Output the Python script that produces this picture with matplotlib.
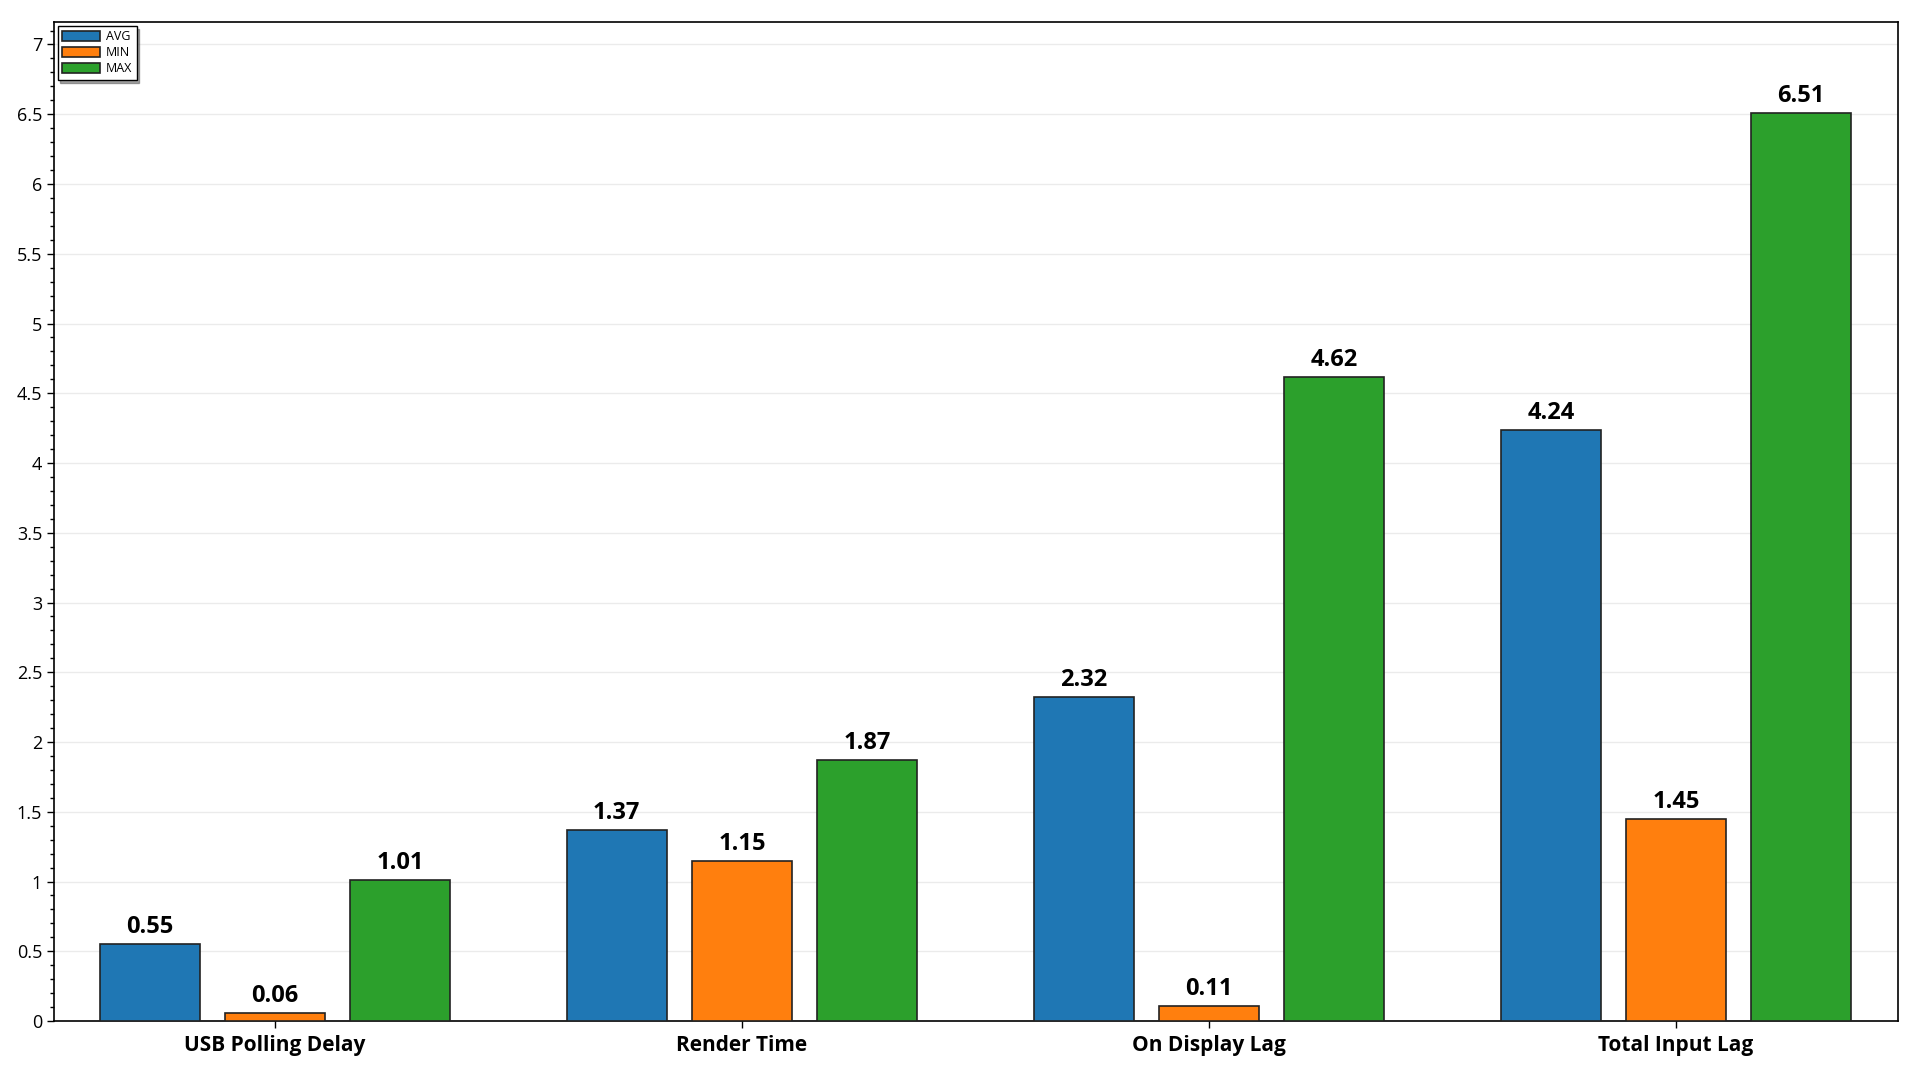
import numpy as np
import matplotlib
matplotlib.use("Agg")
import matplotlib.pyplot as plt
from matplotlib.ticker import MultipleLocator, FuncFormatter

plt.rcParams['font.family'] = ['Open Sans', 'DejaVu Sans']

categories = ['USB Polling Delay', 'Render Time', 'On Display Lag', 'Total Input Lag']
avg_vals = [0.55, 1.37, 2.32, 4.24]
min_vals = [0.06, 1.15, 0.11, 1.45]
max_vals = [1.01, 1.87, 4.62, 6.51]
series_names = ['AVG', 'MIN', 'MAX']
colors = ['#1f77b4', '#ff7f0e', '#2ca02c']

fig = plt.figure(figsize=(19.2, 10.8), dpi=100)
ax = fig.add_axes([0.0281, 0.0546, 0.9604, 0.925])

x = np.arange(len(categories))
width = 0.214
step = 0.268
for i, (vals, name, col) in enumerate(zip([avg_vals, min_vals, max_vals], series_names, colors)):
    bars = ax.bar(x + (i - 1) * step, vals, width, color=col, edgecolor='#222222',
                  linewidth=1.2, label=name, zorder=3)
    for b, v in zip(bars, vals):
        ax.text(b.get_x() + b.get_width() / 2, v + 0.035, '%.2f' % v, ha='center', va='bottom',
                fontsize=17, fontweight='bold', zorder=4)

ax.set_xlim(-0.473, 3.475)
ax.set_ylim(0, max(max_vals) * 1.1)
ax.set_xticks(x)
ax.set_xticklabels(categories, fontsize=15, fontweight='bold')
ax.yaxis.set_major_locator(MultipleLocator(0.5))
ax.yaxis.set_minor_locator(MultipleLocator(0.1))
ax.yaxis.set_major_formatter(FuncFormatter(lambda v, p: '%g' % v))
ax.tick_params(axis='y', labelsize=13, length=5, width=1)
ax.tick_params(axis='y', which='minor', length=3, width=1)
ax.tick_params(axis='x', length=5, width=1, pad=5)
ax.grid(axis='y', color='#ebebeb', linewidth=1, zorder=0)
for s in ax.spines.values():
    s.set_linewidth(1.2)
    s.set_color('black')

leg = ax.legend(loc='upper left', fontsize=9, fancybox=False, shadow=True, framealpha=1,
                edgecolor='black', handlelength=3.0, handleheight=0.9, borderpad=0.35,
                labelspacing=0.25, handletextpad=0.5, borderaxespad=0.3)
leg.get_frame().set_linewidth(1)

fig.savefig('out.png', dpi=100)
